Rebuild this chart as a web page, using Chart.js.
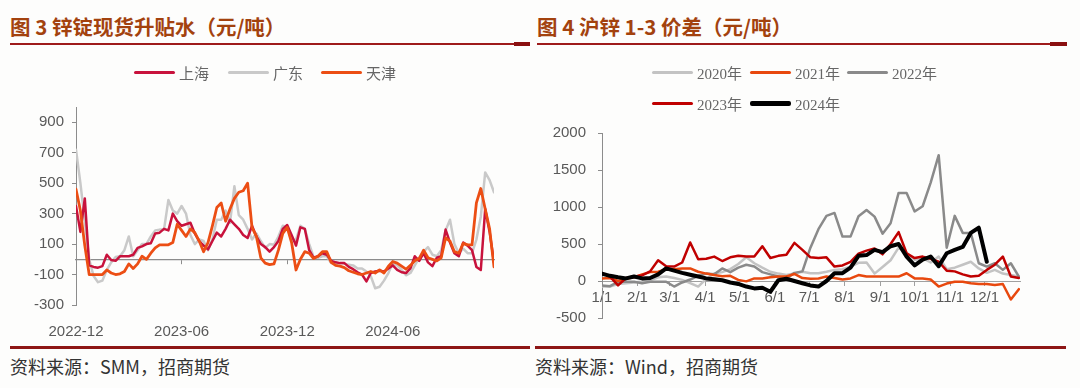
<!DOCTYPE html>
<html>
<head>
<meta charset="utf-8">
<script src="https://cdn.jsdelivr.net/npm/chart.js@4.4.1/dist/chart.umd.min.js"></script>
<style>
  body { margin:0; width:1080px; height:388px; overflow:hidden; position:relative; background:#fdfdfc; font-family:"Noto Sans CJK SC", sans-serif; }
  .title { position:absolute; top:14px; font-size:20.5px; font-weight:700; color:#a3420e; line-height:24px; white-space:nowrap; }
  .rule { position:absolute; top:43px; height:2px; background:#9e1b1b; }
  .rule-end { position:absolute; top:42px; height:4px; background:#8a1010; }
  .foot { position:absolute; top:346px; height:3px; background:#8e1616; }
  .src { position:absolute; top:355px; font-size:18px; line-height:22px; color:#333; white-space:nowrap; }
  .legend-row { position:absolute; height:20px; z-index:2; }
  .lg-item { position:absolute; top:0; height:20px; display:flex; align-items:center; white-space:nowrap;
             font-family:"Liberation Serif", "Noto Sans CJK SC", serif; font-size:15px; color:#666; }
  .lg-line { display:inline-block; width:41px; margin-right:4px; }
  canvas { position:absolute; }
</style>
</head>
<body>

<div class="title" style="left:10px">图 3 锌锭现货升贴水（元/吨）</div>
<div class="title" style="left:537px">图 4 沪锌 1-3 价差（元/吨）</div>
<div class="rule" style="left:10px;width:520px"></div>
<div class="rule-end" style="left:514px;width:16px"></div>
<div class="rule" style="left:537px;width:530px"></div>
<div class="rule-end" style="left:1050px;width:17px"></div>

<div id="lg-left" class="legend-row" style="left:0;top:62px;width:530px"></div>
<div id="lg-right1" class="legend-row" style="left:0;top:62px;width:1080px"></div>
<div id="lg-right2" class="legend-row" style="left:0;top:93px;width:1080px"></div>

<canvas id="c-left" width="530" height="268" style="left:0;top:77px"></canvas>
<canvas id="c-right" width="545" height="240" style="left:530px;top:100px"></canvas>

<div class="foot" style="left:10px;width:520px"></div>
<div class="foot" style="left:535px;width:531px"></div>
<div class="src" style="left:10px">资料来源：SMM，招商期货</div>
<div class="src" style="left:535px">资料来源：Wind，招商期货</div>

<script>
// ---- 图3 锌锭现货升贴水 (roughly weekly samples, 2022-12 .. 2024-11)
const leftTickPos = [0, 24, 48, 72]
const leftTickLabels = ['2022-12', '2023-06', '2023-12', '2024-06']
const leftYTicks = [-300, -100, 100, 300, 500, 700, 900]

const shanghai = [
  350, 180, 400, -40, -50, -55, -45, 30, -5, -10,
  20, 20, 20, 30, 75, 85, 100, 105, 170, 175,
  200, 190, 300, 250, 220, 230, 240, 170, 120, 90,
  65, 120, 175, 150, 200, 260, 230, 200, 160, 140,
  220, 150, 100, 80, 50, 80, 120, 200, 225, 160,
  90, 210, 200, 60, 10, 20, 40, 30, -10, -20,
  -25, -25, -50, -65, -85, -100, -145, -90, -80, -75,
  -80, -60, -40, -70, -85, -90, -60, 20, -10, 40,
  -20, -45, 10, 20, 195, 110, 40, 20, 110, 90,
  60, -50, -70, 330, 180, -20
]
const guangdong = [
  720, 500, 250, 0, -110, -150, -140, -70, -20, 15,
  20, 60, 150, 20, 60, 100, 100, 150, 190, 195,
  195, 390, 320, 300, 350, 300, 160, 100, 130, 120,
  60, 130, 260, 260, 320, 240, 480, 290, 260, 200,
  130, 170, 120, 75, 100, 95, 150, 220, 210, 120,
  130, 220, 200, 100, 15, 10, 20, 20, -25, -30,
  -25, -30, -35, -40, -60, -60, -80, -110, -190, -180,
  -140, -90, -25, -40, -70, -105, -90, -40, 10, 50,
  80, 30, 20, 60, 190, 260, 100, 40, 70, 40,
  40, 130, 280, 570, 520, 440
]
const tianjin = [
  460, 320, 90, -100, -100, -100, -100, -70, -90, -100,
  -95, -80, -30, -60, -30, 20, 0, 40, 75, 95,
  95, 95, 110, 230, 190, 150, 200, 175, 120, 50,
  110, 220, 340, 370, 250, 330, 400, 440, 450, 500,
  210, 150, 10, -25, -35, -30, 60, 170, 210, 110,
  -70, 0, 50, 40, 5, 20, 50, 50, -20, -40,
  -45, -55, -75, -85, -95, -100, -90, -80, -90, -70,
  -90, -45, -15, -25, -45, -65, -40, -10, 5, 60,
  10, 0, -10, 10, 140, 120, 50, 40, 105, 95,
  95, 370, 465, 330, 200, -50
]

// ---- 图4 沪锌1-3价差 (weekly samples, day of year)
const days = [
  0, 7, 14, 21, 28, 35, 42, 49, 56, 63, 70, 77, 84, 91, 98, 105, 112, 119,
  126, 133, 140, 147, 154, 161, 168, 175, 182, 189, 196, 203, 210, 217, 224, 231,
  238, 245, 252, 259, 266, 273, 280, 287, 294, 301, 308, 315, 322, 329, 336, 343,
  350, 357, 364
]
const monthDays = [0, 31, 59, 90, 120, 151, 181, 212, 243, 273, 304, 334]
const monthLabels = ['1/1', '2/1', '3/1', '4/1', '5/1', '6/1', '7/1', '8/1', '9/1', '10/1', '11/1', '12/1']
const rightYTicks = [-500, 0, 500, 1000, 1500, 2000]

const y2020 = [
  -75, -75, -40, -30, -20, -5, 10, 50, 60, 40,
  15, -30, -75, 30, 100, 120, 160, 230, 320, 240,
  180, 125, 100, 80, 100, 125, 105, 105, 125, 150,
  160, 195, 245, 250, 100, 190, 280, 450, 380, 285,
  310, 250, 330, 160, 180, 220, 260, 170, 110, 150,
  100, 80, 60
]
const y2021 = [
  35, 40, 0, 30, 50, 90, 120, 125, 160, 160,
  170, 170, 125, 100, 80, 65, 70, 15, -5, 35,
  35, 50, 60, 60, 95, 40, 30, 35, 60, 40,
  20, 35, 80, 60, 60, 60, 60, 60, 105, 35,
  35, 20, -75, -35, -10, -10, -30, -40, -40, -55,
  -40, -250, -110
]
const y2022 = [
  -60, -70, -10, -10, -10, -30, -10, -10, -10, -75,
  -20, 20, 70, 100, 90, 170, 120, 180, 220, 195,
  120, 90, 60, 35, 110, 130, 450, 700, 880, 920,
  600, 600, 875, 960, 870, 640, 780, 1190, 1190, 940,
  1010, 1330, 1700, 450, 880, 650, 650, 240, 195, 240,
  150, 240, 60
]
const y2023 = [
  105, 60, -60, 40, 60, 75, 130, 280, 200, 195,
  250, 520, 295, 300, 330, 270, 320, 340, 330, 330,
  470, 310, 340, 355, 515, 420, 320, 310, 320, 195,
  210, 260, 370, 410, 440, 360, 500, 660, 375, 310,
  330, 300, 260, 140, 130, 90, 60, 70, 150, 220,
  330, 60, 40
]
const y2024 = [
  100, 70, 50, 35, 60, 35, 40, 90, 170, 140,
  110, 85, 60, 35, 25, 10, -20, -40, -75, -100,
  -90, -145, 10, 30, 0, -30, -60, -75, 0, 105,
  105, 180, 340, 350, 420, 390, 470, 500, 330, 210,
  290, 330, 200, 375, 420, 460, 650, 720, 260
]

const AXIS_GRAY = '#8c8c8c'
const TICK_FONT = { family: '"Liberation Sans", Arial, sans-serif', size: 15 }
const TICK_COLOR = '#595959'

const leftSeries = [
  { label: '上海', data: shanghai, color: '#c8123c', width: 2.5, order: 1 },
  { label: '广东', data: guangdong, color: '#c9c9c9', width: 2.5, order: 2 },
  { label: '天津', data: tianjin, color: '#ec4e14', width: 2.8, order: 0 },
]
const rightSeries = [
  { label: '2020年', data: y2020, color: '#c3c3c3', width: 2.5, order: 4 },
  { label: '2021年', data: y2021, color: '#e8480e', width: 2.5, order: 2 },
  { label: '2022年', data: y2022, color: '#8a8a8a', width: 2.5, order: 3 },
  { label: '2023年', data: y2023, color: '#c00000', width: 2.5, order: 1 },
  { label: '2024年', data: y2024, color: '#000000', width: 4, order: 0 },
]

function fixTicks(list) {
  return scale => { scale.ticks = list.map(v => ({ value: v })) }
}

function legend(el, items, xs) {
  items.forEach((s, i) => {
    const d = document.createElement('div')
    d.className = 'lg-item'
    d.style.left = xs[i] + 'px'
    d.innerHTML = `<span class="lg-line" style="height:${s.width > 3 ? 5 : 3}px;background:${s.color};border-radius:2px"></span>${s.label}`
    el.appendChild(d)
  })
}
legend(document.getElementById('lg-left'), leftSeries, [134, 228, 321])
legend(document.getElementById('lg-right1'), rightSeries.slice(0, 3), [652, 750, 847])
legend(document.getElementById('lg-right2'), rightSeries.slice(3), [652, 750])

const common = {
  responsive: false,
  animation: false,
  devicePixelRatio: 1,
  events: [],
  elements: { point: { radius: 0 }, line: { tension: 0, borderJoinStyle: 'round', borderCapStyle: 'round' } },
  plugins: { legend: { display: false }, tooltip: { enabled: false } },
}

new Chart(document.getElementById('c-left'), {
  type: 'line',
  data: {
    datasets: leftSeries.map(s => ({
      label: s.label,
      data: s.data.map((v, i) => ({ x: i, y: v })),
      borderColor: s.color,
      borderWidth: s.width,
      order: s.order,
    })),
  },
  options: {
    ...common,
    layout: { padding: { top: 30, right: 36, left: 0, bottom: 0 } },
    scales: {
      x: {
        type: 'linear', min: 0, max: 95,
        afterBuildTicks: fixTicks(leftTickPos),
        afterFit: s => { s.height = 40 },
        ticks: { callback: v => leftTickLabels[leftTickPos.indexOf(v)], color: TICK_COLOR, font: TICK_FONT, padding: 10, maxRotation: 0, autoSkip: false },
        grid: { display: false },
        border: { display: false },
      },
      x0: {
        type: 'linear', axis: 'x', position: { y: 0 }, min: 0, max: 95,
        afterBuildTicks: fixTicks(leftTickPos),
        ticks: { display: false },
        grid: { drawOnChartArea: false, drawTicks: true, tickLength: 4, color: AXIS_GRAY },
        border: { color: AXIS_GRAY, width: 1.2 },
      },
      y: {
        min: -300, max: 1000,
        afterBuildTicks: fixTicks(leftYTicks),
        afterFit: s => { s.width = 76 },
        ticks: { callback: v => String(v), color: TICK_COLOR, font: TICK_FONT, padding: 8 },
        grid: { drawOnChartArea: false, tickLength: 4, color: AXIS_GRAY },
        border: { color: AXIS_GRAY },
      },
    },
  },
})

new Chart(document.getElementById('c-right'), {
  type: 'line',
  data: {
    datasets: rightSeries.map(s => ({
      label: s.label,
      data: s.data.map((v, i) => ({ x: days[i], y: v })),
      borderColor: s.color,
      borderWidth: s.width,
      order: s.order,
    })),
  },
  options: {
    ...common,
    layout: { padding: { top: 33, right: 55, left: 0, bottom: 22 } },
    scales: {
      x: {
        type: 'linear', position: { y: 0 }, min: 0, max: 365,
        afterBuildTicks: fixTicks(monthDays),
        ticks: { callback: v => monthLabels[monthDays.indexOf(v)], color: TICK_COLOR, font: TICK_FONT, padding: 4, maxRotation: 0, autoSkip: false },
        grid: { drawOnChartArea: false, drawTicks: true, tickLength: 4, color: '#a0a0a0' },
        border: { color: '#a0a0a0' },
      },
      y: {
        min: -500, max: 2000,
        afterBuildTicks: fixTicks(rightYTicks),
        afterFit: s => { s.width = 72 },
        ticks: { callback: v => String(v), color: TICK_COLOR, font: TICK_FONT, padding: 12 },
        grid: { drawOnChartArea: false, tickLength: 4, color: AXIS_GRAY },
        border: { color: AXIS_GRAY },
      },
    },
  },
})
</script>
</body>
</html>
